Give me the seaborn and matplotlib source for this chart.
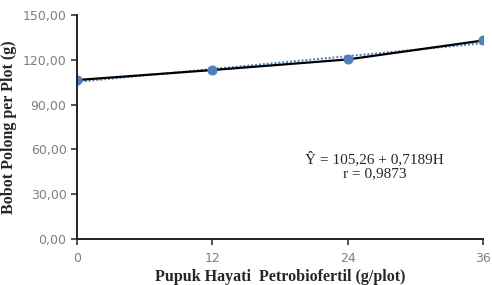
import matplotlib
matplotlib.use("Agg")
import matplotlib.pyplot as plt
import seaborn as sns
import numpy as np

# data
dosis = [0, 12, 24, 36]
bobot = [106.5, 113.2, 120.3, 133.0]
intercept = 105.26
slope = 0.7189
r_value = 0.9873

x_ticks = [0, 12, 24, 36]
y_ticks = [0, 30, 60, 90, 120, 150]

sns.set_style("white")

fig = plt.figure(figsize=(4.92, 2.85), dpi=100)
ax = fig.add_axes([0.1565, 0.1614, 0.8255, 0.7856])

# trend line from the regression equation
trend = [intercept + slope * d for d in dosis]
sns.lineplot(x=dosis, y=trend, ax=ax, color="#4a7ebb", linestyle=(0, (1, 1)),
             linewidth=1.4)
sns.lineplot(x=dosis, y=bobot, ax=ax, color="black", linewidth=1.6,
             marker="o", markersize=6.5, markerfacecolor="#4f81bd",
             markeredgecolor="#4f81bd")

ax.set_xlim(0, 36)
ax.set_ylim(0, 150)
ax.set_xticks(x_ticks)
ax.set_yticks(y_ticks)
ax.set_xticklabels([str(t) for t in x_ticks])
ax.set_yticklabels([f"{t:.2f}".replace(".", ",") for t in y_ticks])
ax.tick_params(axis="both", direction="out", length=4, width=1.2, color="#333333",
               labelsize=9, labelcolor="#7f7f7f", bottom=True, left=True)
ax.tick_params(axis="x", pad=5)

for s in ["top", "right"]:
    ax.spines[s].set_visible(False)
for s in ["left", "bottom"]:
    ax.spines[s].set_color("#222222")
    ax.spines[s].set_linewidth(1.4)

serif = ["Liberation Serif", "DejaVu Serif"]
ax.set_xlabel("Pupuk Hayati  Petrobiofertil (g/plot)", family=serif,
              fontweight="bold", fontsize=11.5, labelpad=3)
ax.set_ylabel("Bobot Polong per Plot (g)", family=serif,
              fontweight="bold", fontsize=11.5, labelpad=4)

eq = f"Ŷ = {intercept:.2f} + {slope:.4f}H".replace(".", ",")
rr = f"r = {r_value:.4f}".replace(".", ",")
ax.text(26.4, 49, eq + "\n" + rr, ha="center", va="center", family=serif,
        fontsize=11, linespacing=1.1)

fig.savefig("out.png", dpi=100)
